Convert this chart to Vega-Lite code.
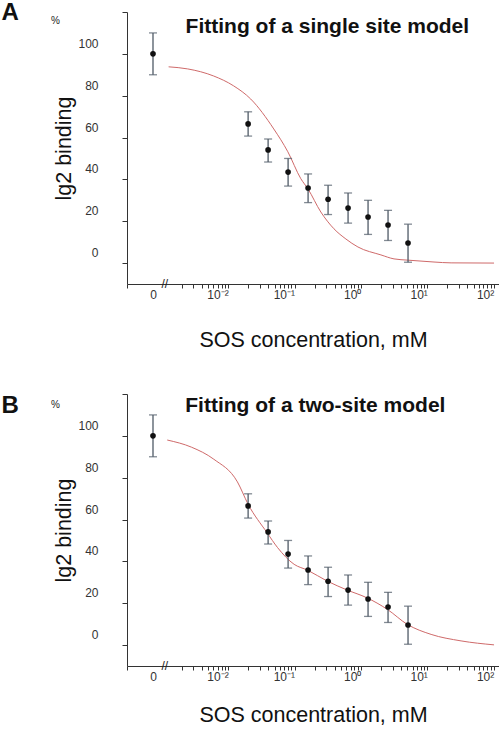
{
  "$schema": "https://vega.github.io/schema/vega-lite/v6.json",
  "background": "white",
  "padding": {"left": 1, "top": 0, "right": 0, "bottom": 0},
  "config": {
    "view": {"stroke": null},
    "font": "Liberation Sans",
    "axis": {"grid": false},
    "axisY": {
      "values": [-10, 0, 10, 20, 30, 40, 50, 60, 70, 80, 90, 100, 110, 120],
      "labelExpr": "datum.value >= 0 && datum.value <= 100 && datum.value % 20 == 0 ? format(datum.value, 'd') : ''",
      "tickSize": 5, "tickColor": "#333", "domainColor": "#333",
      "labelPadding": 24,
      "labelOffset": {"condition": {"test": "datum.value > 100 || datum.value < 0", "value": 0}, "value": -10.5},
      "labelFontSize": {"condition": {"test": "datum.value > 100 || datum.value < 0", "value": 0}, "value": 12},
      "labelColor": "#333",
      "labelOverlap": false, "labelFlush": false, "labelBound": false,
      "titleFontSize": 21.5, "titleFontWeight": "normal", "titleColor": "#111", "titlePadding": 2
    }
  },
  "datasets": {
    "obs": [
      {"conc": 0.02, "mean": 66.5, "lo": 60.7, "hi": 72.3},
      {"conc": 0.04, "mean": 54.1, "lo": 48.3, "hi": 59.3},
      {"conc": 0.08, "mean": 43.5, "lo": 36.8, "hi": 50.0},
      {"conc": 0.16, "mean": 35.9, "lo": 28.9, "hi": 42.6},
      {"conc": 0.32, "mean": 30.5, "lo": 23.2, "hi": 37.2},
      {"conc": 0.64, "mean": 26.3, "lo": 19.1, "hi": 33.5},
      {"conc": 1.28, "mean": 22.0, "lo": 13.7, "hi": 30.0},
      {"conc": 2.56, "mean": 18.2, "lo": 10.8, "hi": 25.2},
      {"conc": 5.12, "mean": 9.6, "lo": 0.4, "hi": 18.6}
    ],
    "ctrl": [{"conc": 0, "mean": 100, "lo": 90, "hi": 110}],
    "fitA": [
      {"conc": 0.00127, "value": 93.8},
      {"conc": 0.00246, "value": 92.8},
      {"conc": 0.00607, "value": 89.4},
      {"conc": 0.0121, "value": 84.7},
      {"conc": 0.0219, "value": 78.4},
      {"conc": 0.0487, "value": 64.1},
      {"conc": 0.0793, "value": 53.2},
      {"conc": 0.1245, "value": 40.3},
      {"conc": 0.159, "value": 35.5},
      {"conc": 0.249, "value": 24.4},
      {"conc": 0.392, "value": 16.4},
      {"conc": 0.594, "value": 11.5},
      {"conc": 0.9, "value": 7.7},
      {"conc": 2.0, "value": 3.9},
      {"conc": 3.15, "value": 2.0},
      {"conc": 5.1, "value": 1.4},
      {"conc": 12.6, "value": 0.5},
      {"conc": 22.8, "value": 0.1},
      {"conc": 101, "value": 0}
    ],
    "fitB": [
      {"conc": 0.00121, "value": 98.0},
      {"conc": 0.0028, "value": 94.6},
      {"conc": 0.0061, "value": 88.8},
      {"conc": 0.0138, "value": 78.0},
      {"conc": 0.02, "value": 67.3},
      {"conc": 0.0386, "value": 53.7},
      {"conc": 0.0555, "value": 46.6},
      {"conc": 0.0986, "value": 38.6},
      {"conc": 0.157, "value": 35.8},
      {"conc": 0.31, "value": 30.6},
      {"conc": 0.621, "value": 26.3},
      {"conc": 1.23, "value": 22.6},
      {"conc": 2.49, "value": 17.1},
      {"conc": 4.99, "value": 9.9},
      {"conc": 11.4, "value": 5.1},
      {"conc": 32.2, "value": 2.0},
      {"conc": 101, "value": 0.1}
    ]
  },
  "spacing": 42,
  "vconcat": [
    {
      "width": 372,
      "height": 272,
      "resolve": {"scale": {"x": "independent"}, "axis": {"x": "independent"}},
      "layer": [
        {
          "layer": [
            {
              "data": {"name": "fitA"},
              "mark": {"type": "line", "color": "#cf6a6a", "strokeWidth": 1, "interpolate": "monotone"},
              "encoding": {
                "x": {
                  "field": "conc", "type": "quantitative",
                  "scale": {"type": "log", "domain": [0.0003, 120], "nice": false},
                  "axis": {
                    "orient": "bottom",
                    "values": [0.0003, 0.002, 0.003, 0.004, 0.005, 0.006, 0.007, 0.008, 0.009, 0.01, 0.02, 0.03, 0.04, 0.05, 0.06, 0.07, 0.08, 0.09, 0.1, 0.2, 0.3, 0.4, 0.5, 0.6, 0.7, 0.8, 0.9, 1, 2, 3, 4, 5, 6, 7, 8, 9, 10, 20, 30, 40, 50, 60, 70, 80, 90, 100],
                    "labelExpr": "datum.value == 0.01 ? '10⁻²' : datum.value == 0.1 ? '10⁻¹' : datum.value == 1 ? '10⁰' : datum.value == 10 ? '10¹' : datum.value == 100 ? '10²' : ''",
                    "tickSize": 4, "tickColor": "#333", "domainColor": "#333",
                    "labelPadding": 1, "labelFontSize": 12, "labelColor": "#333", "labelAlign": "right",
                    "labelOverlap": false, "labelFlush": false,
                    "title": "SOS concentration, mM", "titleFontSize": 21.5, "titleFontWeight": "normal",
                    "titleColor": "#111", "titlePadding": 29
                  }
                },
                "y": {
                  "field": "value", "type": "quantitative", "title": "lg2 binding",
                  "scale": {"domain": [-10, 120], "nice": false, "zero": false}
                }
              }
            },
            {
              "data": {"name": "obs"},
              "mark": {"type": "errorbar", "ticks": {"size": 8, "color": "#4f5a66"}, "color": "#4f5a66", "thickness": 1.3},
              "encoding": {
                "x": {"field": "conc", "type": "quantitative"},
                "y": {"field": "lo", "type": "quantitative", "title": "lg2 binding"},
                "y2": {"field": "hi"}
              }
            },
            {
              "data": {"name": "obs"},
              "mark": {"type": "point", "filled": true, "color": "#111", "size": 32, "opacity": 1},
              "encoding": {
                "x": {"field": "conc", "type": "quantitative"},
                "y": {"field": "mean", "type": "quantitative", "title": "lg2 binding"}
              }
            },
            {
              "data": {"values": [{}]},
              "mark": {"type": "text", "text": "Fitting of a single site model", "fontSize": 21, "fontWeight": "bold", "align": "center", "baseline": "alphabetic", "fill": "#111"},
              "encoding": {
                "x": {"datum": 0.312, "type": "quantitative"},
                "y": {"datum": 110, "type": "quantitative", "title": "lg2 binding"}
              }
            },
            {
              "data": {"values": [{}]},
              "mark": {"type": "text", "text": "A", "fontSize": 24, "fontWeight": "bold", "align": "center", "baseline": "alphabetic", "fill": "#111"},
              "encoding": {
                "x": {"datum": 0.0000052, "type": "quantitative"},
                "y": {"datum": 116.2, "type": "quantitative", "title": "lg2 binding"}
              }
            },
            {
              "data": {"values": [{}]},
              "mark": {"type": "text", "text": "%", "fontSize": 10, "align": "center", "baseline": "alphabetic", "fill": "#222"},
              "encoding": {
                "x": {"datum": 0.0000251, "type": "quantitative"},
                "y": {"datum": 114.3, "type": "quantitative", "title": "lg2 binding"}
              }
            },
            {
              "data": {"values": [{}]},
              "mark": {"type": "text", "text": "//", "fontSize": 12, "align": "center", "baseline": "middle", "fill": "#222"},
              "encoding": {
                "x": {"datum": 0.00111, "type": "quantitative"},
                "y": {"datum": -10, "type": "quantitative", "title": "lg2 binding"}
              }
            }
          ]
        },
        {
          "data": {"name": "ctrl"},
          "layer": [
            {
              "mark": {"type": "errorbar", "ticks": {"size": 8, "color": "#4f5a66"}, "color": "#4f5a66", "thickness": 1.3},
              "encoding": {
                "x": {
                  "field": "conc", "type": "ordinal",
                  "scale": {"type": "point", "range": [0, 52]},
                  "axis": {"orient": "bottom", "domain": false, "ticks": false, "labelPadding": 5, "labelFontSize": 12, "labelColor": "#333", "labelAngle": 0, "title": null}
                },
                "y": {"field": "lo", "type": "quantitative", "title": "lg2 binding"},
                "y2": {"field": "hi"}
              }
            },
            {
              "mark": {"type": "point", "filled": true, "color": "#111", "size": 32, "opacity": 1},
              "encoding": {
                "x": {"field": "conc", "type": "ordinal"},
                "y": {"field": "mean", "type": "quantitative", "title": "lg2 binding"}
              }
            }
          ]
        }
      ]
    },
    {
      "width": 372,
      "height": 272,
      "resolve": {"scale": {"x": "independent"}, "axis": {"x": "independent"}},
      "layer": [
        {
          "layer": [
            {
              "data": {"name": "fitB"},
              "mark": {"type": "line", "color": "#cf6a6a", "strokeWidth": 1, "interpolate": "monotone"},
              "encoding": {
                "x": {
                  "field": "conc", "type": "quantitative",
                  "scale": {"type": "log", "domain": [0.0003, 120], "nice": false},
                  "axis": {
                    "orient": "bottom",
                    "values": [0.0003, 0.002, 0.003, 0.004, 0.005, 0.006, 0.007, 0.008, 0.009, 0.01, 0.02, 0.03, 0.04, 0.05, 0.06, 0.07, 0.08, 0.09, 0.1, 0.2, 0.3, 0.4, 0.5, 0.6, 0.7, 0.8, 0.9, 1, 2, 3, 4, 5, 6, 7, 8, 9, 10, 20, 30, 40, 50, 60, 70, 80, 90, 100],
                    "labelExpr": "datum.value == 0.01 ? '10⁻²' : datum.value == 0.1 ? '10⁻¹' : datum.value == 1 ? '10⁰' : datum.value == 10 ? '10¹' : datum.value == 100 ? '10²' : ''",
                    "tickSize": 4, "tickColor": "#333", "domainColor": "#333",
                    "labelPadding": 1, "labelFontSize": 12, "labelColor": "#333", "labelAlign": "right",
                    "labelOverlap": false, "labelFlush": false,
                    "title": "SOS concentration, mM", "titleFontSize": 21.5, "titleFontWeight": "normal",
                    "titleColor": "#111", "titlePadding": 22
                  }
                },
                "y": {
                  "field": "value", "type": "quantitative", "title": "lg2 binding",
                  "scale": {"domain": [-10, 120], "nice": false, "zero": false}
                }
              }
            },
            {
              "data": {"name": "obs"},
              "mark": {"type": "errorbar", "ticks": {"size": 8, "color": "#4f5a66"}, "color": "#4f5a66", "thickness": 1.3},
              "encoding": {
                "x": {"field": "conc", "type": "quantitative"},
                "y": {"field": "lo", "type": "quantitative", "title": "lg2 binding"},
                "y2": {"field": "hi"}
              }
            },
            {
              "data": {"name": "obs"},
              "mark": {"type": "point", "filled": true, "color": "#111", "size": 32, "opacity": 1},
              "encoding": {
                "x": {"field": "conc", "type": "quantitative"},
                "y": {"field": "mean", "type": "quantitative", "title": "lg2 binding"}
              }
            },
            {
              "data": {"values": [{}]},
              "mark": {"type": "text", "text": "Fitting of a two-site model", "fontSize": 21, "fontWeight": "bold", "align": "center", "baseline": "alphabetic", "fill": "#111"},
              "encoding": {
                "x": {"datum": 0.206, "type": "quantitative"},
                "y": {"datum": 111.4, "type": "quantitative", "title": "lg2 binding"}
              }
            },
            {
              "data": {"values": [{}]},
              "mark": {"type": "text", "text": "B", "fontSize": 24, "fontWeight": "bold", "align": "center", "baseline": "alphabetic", "fill": "#111"},
              "encoding": {
                "x": {"datum": 0.0000052, "type": "quantitative"},
                "y": {"datum": 110.9, "type": "quantitative", "title": "lg2 binding"}
              }
            },
            {
              "data": {"values": [{}]},
              "mark": {"type": "text", "text": "%", "fontSize": 10, "align": "center", "baseline": "alphabetic", "fill": "#222"},
              "encoding": {
                "x": {"datum": 0.0000251, "type": "quantitative"},
                "y": {"datum": 113.3, "type": "quantitative", "title": "lg2 binding"}
              }
            },
            {
              "data": {"values": [{}]},
              "mark": {"type": "text", "text": "//", "fontSize": 12, "align": "center", "baseline": "middle", "fill": "#222"},
              "encoding": {
                "x": {"datum": 0.00111, "type": "quantitative"},
                "y": {"datum": -10, "type": "quantitative", "title": "lg2 binding"}
              }
            }
          ]
        },
        {
          "data": {"name": "ctrl"},
          "layer": [
            {
              "mark": {"type": "errorbar", "ticks": {"size": 8, "color": "#4f5a66"}, "color": "#4f5a66", "thickness": 1.3},
              "encoding": {
                "x": {
                  "field": "conc", "type": "ordinal",
                  "scale": {"type": "point", "range": [0, 52]},
                  "axis": {"orient": "bottom", "domain": false, "ticks": false, "labelPadding": 5, "labelFontSize": 12, "labelColor": "#333", "labelAngle": 0, "title": null}
                },
                "y": {"field": "lo", "type": "quantitative", "title": "lg2 binding"},
                "y2": {"field": "hi"}
              }
            },
            {
              "mark": {"type": "point", "filled": true, "color": "#111", "size": 32, "opacity": 1},
              "encoding": {
                "x": {"field": "conc", "type": "ordinal"},
                "y": {"field": "mean", "type": "quantitative", "title": "lg2 binding"}
              }
            }
          ]
        }
      ]
    }
  ]
}
